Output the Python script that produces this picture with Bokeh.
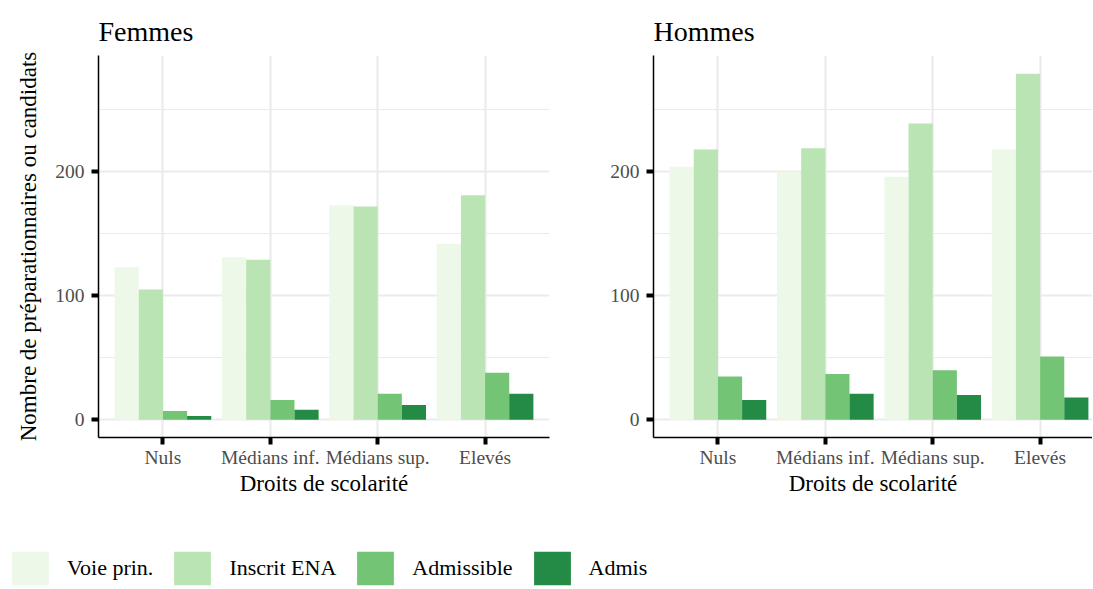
from bokeh.plotting import figure
from bokeh.models import Range1d, FixedTicker, Legend, LegendItem
from bokeh.layouts import row, column
from bokeh.embed import file_html
from bokeh.resources import INLINE

categories = ["Nuls", "Médians inf.", "Médians sup.", "Elevés"]
series = ["Voie prin.", "Inscrit ENA", "Admissible", "Admis"]
colors = ["#EDF8E9", "#BAE4B3", "#74C476", "#238B45"]

femmes_voie = [123, 131, 173, 142]
femmes_inscrit = [105, 129, 172, 181]
femmes_admissible = [7, 16, 21, 38]
femmes_admis = [3, 8, 12, 21]

hommes_voie = [204, 200, 196, 218]
hommes_inscrit = [218, 219, 239, 279]
hommes_admissible = [35, 37, 40, 51]
hommes_admis = [16, 21, 20, 18]

y_ticks = [0, 100, 200]
y_minor_ticks = [50, 150, 250]

FONT = "Liberation Serif"
GRID = "#EBEBEB"
DODGE = 0.9
BAR_W = DODGE / len(series)


def make_panel(title, values, x_end, width, mbl, mbr, ylabel):
    p = figure(width=width, height=520, output_backend="svg", toolbar_location=None,
               x_range=Range1d(0.4, x_end), y_range=Range1d(-14.3, 293.8),
               min_border_left=mbl, min_border_right=mbr,
               min_border_top=55, min_border_bottom=83)
    p.outline_line_color = None
    p.background_fill_color = "white"
    p.border_fill_color = "white"

    xs_base = [i + 1 for i in range(len(categories))]
    for k, (vals, col) in enumerate(zip(values, colors)):
        off = (k - (len(series) - 1) / 2) * BAR_W
        xs = [x + off for x in xs_base]
        p.vbar(x=xs, top=vals, bottom=0, width=BAR_W, fill_color=col, line_color=None)

    p.title.text = title
    p.title.text_font = FONT
    p.title.text_font_size = "28px"
    p.title.text_font_style = "normal"
    p.title.text_color = "black"
    p.title.align = "left"
    p.title.standoff = 18
    p.title.text_line_height = 0.85

    xt = FixedTicker(ticks=xs_base)
    p.xaxis.ticker = xt
    p.xaxis.major_label_overrides = {x: c for x, c in zip(xs_base, categories)}
    p.xaxis.axis_label = "Droits de scolarité"
    p.yaxis.ticker = FixedTicker(ticks=y_ticks, minor_ticks=y_minor_ticks)
    if ylabel:
        p.yaxis.axis_label = ylabel

    for ax in (p.xaxis[0], p.yaxis[0]):
        ax.axis_line_color = "black"
        ax.axis_line_width = 1.5
        ax.major_tick_line_color = "black"
        ax.major_tick_line_width = 4
        ax.major_tick_out = 7
        ax.major_tick_in = 0
        ax.minor_tick_line_color = None
        ax.major_label_text_font = FONT
        ax.major_label_text_font_size = "19.5px"
        ax.major_label_text_color = "#4D4D4D"
        ax.axis_label_text_font = FONT
        ax.axis_label_text_font_size = "23px"
        ax.axis_label_text_font_style = "normal"
        ax.axis_label_text_color = "black"
    p.xaxis.major_label_standoff = 2
    p.xaxis.axis_label_standoff = 0
    p.yaxis.major_label_standoff = 7
    p.yaxis.axis_label_standoff = 11

    p.xgrid.ticker = xt
    p.xgrid.grid_line_color = GRID
    p.xgrid.grid_line_width = 2.2
    p.ygrid.grid_line_color = GRID
    p.ygrid.grid_line_width = 2.2
    p.ygrid.minor_grid_line_color = GRID
    p.ygrid.minor_grid_line_width = 1.1
    return p


p1 = make_panel("Femmes", [femmes_voie, femmes_inscrit, femmes_admissible, femmes_admis],
                4.6, 600, 98, 51, "Nombre de préparationnaires ou candidats")
p2 = make_panel("Hommes", [hommes_voie, hommes_inscrit, hommes_admissible, hommes_admis],
                4.488, 492, 53, 0, None)

# legend strip (zero-size glyphs only serve as legend keys)
pl = figure(width=1092, height=68, output_backend="svg", toolbar_location=None,
            x_range=Range1d(0, 1), y_range=Range1d(0, 1),
            x_axis_location=None, y_axis_location=None,
            min_border_left=0, min_border_right=0, min_border_top=0, min_border_bottom=0)
pl.outline_line_color = None
pl.grid.visible = False
pl.background_fill_color = "white"
pl.border_fill_color = "white"
leg_renderers = [pl.vbar(x=[0], top=[0], bottom=[0], width=0, fill_color=c, line_color=None)
                 for c in colors]
legend = Legend(items=[LegendItem(label=s, renderers=[r]) for s, r in zip(series, leg_renderers)],
                location=(7, -1), orientation="horizontal",
                glyph_width=46, glyph_height=42, label_standoff=14, spacing=16,
                padding=0, margin=0, border_line_color=None, background_fill_alpha=0,
                label_text_font=FONT, label_text_font_size="22px", label_text_color="black")
pl.add_layout(legend)

layout = column(row(p1, p2), pl)
open("out.html", "w").write(file_html(layout, INLINE))
